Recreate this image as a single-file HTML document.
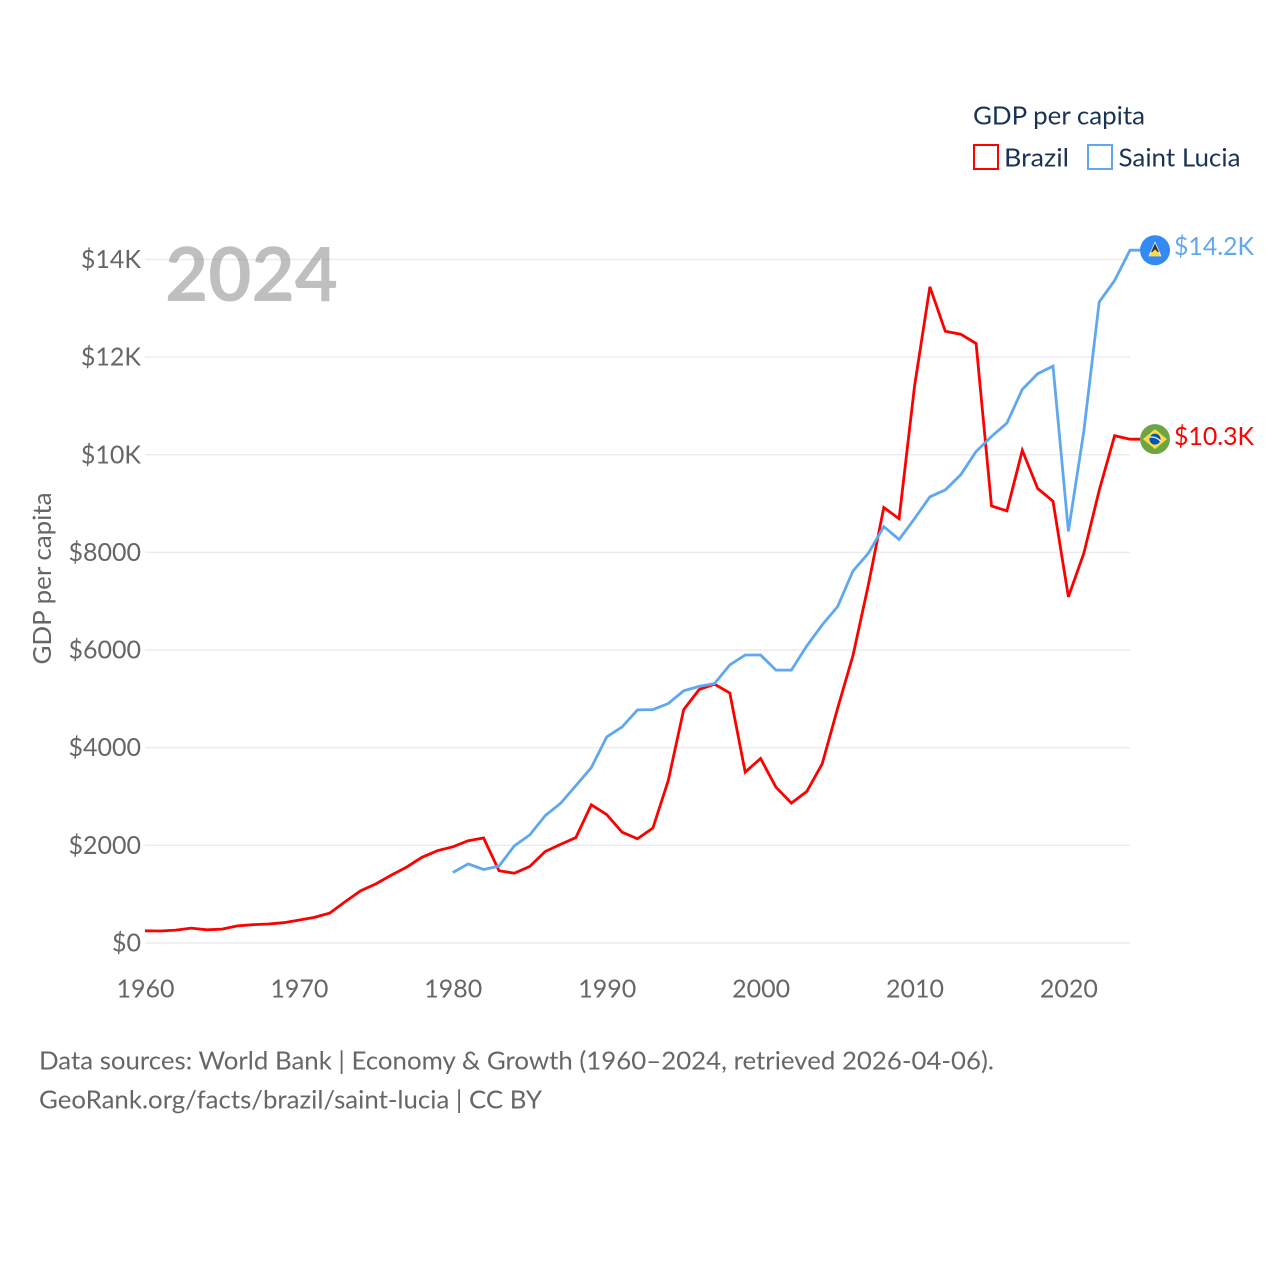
<!DOCTYPE html>
<html lang="en">
<head>
<meta charset="utf-8">
<title>GDP per capita: Brazil and Saint Lucia</title>
<style>
html,body{margin:0;padding:0;background:#fff;width:1280px;height:1280px;overflow:hidden}
svg{display:block}
text{font-family:"Lato","Carlito","Liberation Sans",sans-serif}
</style>
</head>
<body>
<svg id="chart" xmlns="http://www.w3.org/2000/svg" width="1280" height="1280" viewBox="0 0 1280 1280">
  <rect width="1280" height="1280" fill="#fff"/>
  <g id="grid"></g>
  <g id="yticks"></g>
  <g id="xticks"></g>
  <text transform="translate(51,578.5) rotate(-90)" text-anchor="middle" font-size="25" fill="#666" textLength="172" lengthAdjust="spacingAndGlyphs">GDP per capita</text>
  <text x="165" y="301" font-size="75" font-weight="700" fill="#808080" fill-opacity="0.5" textLength="173" lengthAdjust="spacingAndGlyphs">2024</text>
  <g id="series"></g>

  <g>
    <text x="973" y="124.5" font-size="25" fill="#1a3353" textLength="172" lengthAdjust="spacingAndGlyphs">GDP per capita</text>
    <g>
      <rect x="974" y="145" width="24" height="24" fill="#fff" stroke="#ff0000" stroke-width="2"/>
      <text x="1004" y="166.5" font-size="25" fill="#1a3353" textLength="65" lengthAdjust="spacingAndGlyphs">Brazil</text>
    </g>
    <g>
      <rect x="1088" y="145" width="24" height="24" fill="#fff" stroke="#5fa8f0" stroke-width="2"/>
      <text x="1118.5" y="166.5" font-size="25" fill="#1a3353" textLength="122" lengthAdjust="spacingAndGlyphs">Saint Lucia</text>
    </g>
  </g>

  <g id="flag-lucia">
    <circle cx="1155" cy="0" r="15" fill="#338af3"/>
    <polygon points="1155,-9 1161.5,6 1148.5,6" fill="#f3f3f3"/>
    <polygon points="1155,-7 1159,2 1151,2" fill="#333"/>
    <polygon points="1155,-1 1161.5,6 1148.5,6" fill="#ffda44"/>
  </g>
  <g id="flag-brazil">
    <circle cx="1155" cy="0" r="15" fill="#6da544"/>
    <polygon points="1155,-10 1167,0 1155,10 1143,0" fill="#ffda44"/>
    <circle cx="1155" cy="0" r="5.5" fill="#0052b4"/>
    <path d="M1149.5,-2 Q1156,-3 1160.5,2" fill="none" stroke="#f3f3f3" stroke-width="1.3"/>
  </g>
  <text id="label-lucia" x="1174" font-size="25" fill="#5fa8f0" textLength="80" lengthAdjust="spacingAndGlyphs"></text>
  <text id="label-brazil" x="1174" font-size="25" fill="#ff0000" textLength="80" lengthAdjust="spacingAndGlyphs"></text>

  <g>
    <text x="39" y="1069.5" font-size="25" fill="#666" textLength="955" lengthAdjust="spacingAndGlyphs">Data sources: World Bank | Economy &amp; Growth (1960–2024, retrieved 2026-04-06).</text>
    <text x="39" y="1108.5" font-size="25" fill="#666" textLength="503" lengthAdjust="spacingAndGlyphs">GeoRank.org/facts/brazil/saint-lucia | CC BY</text>
  </g>
</svg>
<script>
const startYear = 1960;
const brazilValues = [250,245,265,305,270,285,350,375,390,415,470,525,612,846,1070,1210,1390,1555,1755,1890,1970,2095,2150,1480,1430,1570,1875,2020,2160,2830,2630,2270,2135,2355,3330,4780,5190,5300,5120,3500,3780,3190,2865,3105,3670,4805,5890,7340,8920,8690,11400,13440,12530,12470,12280,8950,8850,10090,9310,9050,7090,7980,9270,10390,10320];
const luciaValues = [null,null,null,null,null,null,null,null,null,null,null,null,null,null,null,null,null,null,null,null,1445,1620,1505,1575,1990,2215,2610,2860,3223,3592,4220,4426,4775,4780,4905,5165,5255,5314,5697,5900,5900,5590,5590,6086,6516,6890,7620,7985,8530,8265,8690,9140,9280,9590,10068,10375,10650,11340,11660,11815,8430,10480,13130,13570,14190];
const yTickValues = [0,2000,4000,6000,8000,10000,12000,14000];
const yTickLabels = ["$0","$2000","$4000","$6000","$8000","$10K","$12K","$14K"];
const xTickValues = [1960,1970,1980,1990,2000,2010,2020];
const brazilEndLabel = "$10.3K";
const luciaEndLabel = "$14.2K";

const NS = "http://www.w3.org/2000/svg";
const xScale = function (year) { return 145 + (year - 1960) * (1130 - 145) / 64; };
const yScale = function (value) { return 943 - value * (943 - 259.5) / 14000; };

function make(tag, parent, attrs, text) {
  const el = document.createElementNS(NS, tag);
  Object.keys(attrs).forEach(function (k) { el.setAttribute(k, attrs[k]); });
  if (text !== undefined) el.textContent = text;
  parent.appendChild(el);
  return el;
}

const grid = document.getElementById("grid");
const yticks = document.getElementById("yticks");
const xticks = document.getElementById("xticks");
const series = document.getElementById("series");

yTickValues.forEach(function (v, i) {
  const line = make("line", grid, {x1: 145, x2: 1130, y1: yScale(v), y2: yScale(v), stroke: "#ececec", "stroke-width": 1.5});
  
  
  const label = make("text", yticks, {x: 141, y: yScale(v) + 8.5, "text-anchor": "end", "font-size": 25, fill: "#666"}, yTickLabels[i]);
  
  
});

xTickValues.forEach(function (year) {
  const label = make("text", xticks, {x: xScale(year) + 0.5, y: 997.5, "text-anchor": "middle", "font-size": 25, fill: "#666"}, String(year));
  
  
});

function pathFor(values) {
  let d = "";
  let lastY = null;
  values.forEach(function (v, i) {
    if (v === null) return;
    d += (d ? "L" : "M") + xScale(startYear + i).toFixed(1) + "," + yScale(v).toFixed(1);
    lastY = yScale(v);
  });
  d += "L1140," + lastY.toFixed(1);
  return d;
}

const brazilLine = make("path", series, {d: pathFor(brazilValues), fill: "none", stroke: "#ff0000", "stroke-width": 2.8, "stroke-linejoin": "miter"});


const luciaLine = make("path", series, {d: pathFor(luciaValues), fill: "none", stroke: "#5fa8f0", "stroke-width": 2.8, "stroke-linejoin": "miter"});



const brazilEndY = yScale(brazilValues[brazilValues.length - 1]);
const luciaEndY = yScale(luciaValues[luciaValues.length - 1]);
document.getElementById("flag-brazil").setAttribute("transform", "translate(0," + brazilEndY + ")");
document.getElementById("flag-lucia").setAttribute("transform", "translate(0," + luciaEndY + ")");
const brazilText = document.getElementById("label-brazil");
brazilText.textContent = brazilEndLabel;
brazilText.setAttribute("y", brazilEndY + 6);
const luciaText = document.getElementById("label-lucia");
luciaText.textContent = luciaEndLabel;
luciaText.setAttribute("y", luciaEndY + 5);
</script>
</body>
</html>
